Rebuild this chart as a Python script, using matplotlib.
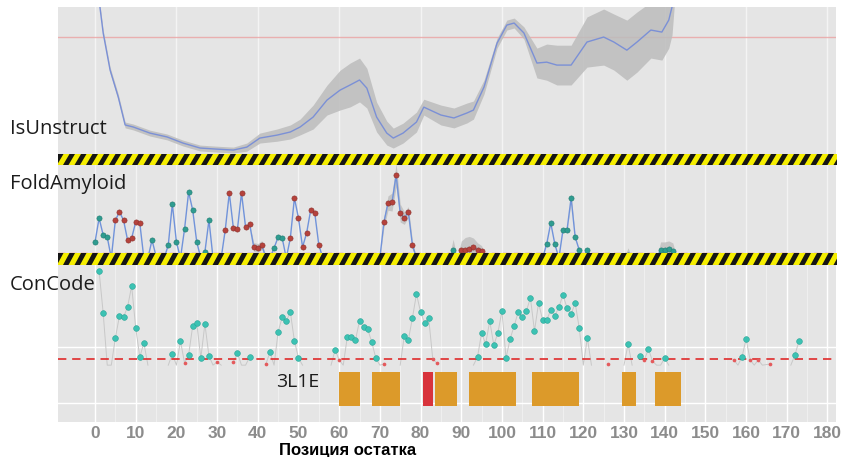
import numpy as np
import matplotlib
matplotlib.use('Agg')
import matplotlib.pyplot as plt
from matplotlib.collections import PolyCollection
from matplotlib.patches import Rectangle

# ---- data ----
# IsUnstruct: residue, smoothed score, half width of the grey band
iu_res = [0.5, 1.2, 2, 3.7, 5.7, 7.4, 9.4, 13.5, 17.7, 21.6, 25.8, 30, 34, 37.3, 40.5,
          44.7, 48, 50.4, 53.6, 57, 60.2, 62.7, 65, 66.8, 69.2, 71.7, 73.3, 75.7, 79,
          80.8, 85, 88.2, 91.4, 93, 95.6, 98.8, 101.2, 103, 105.4, 108.6, 111, 113.5,
          117, 120.9, 125, 127.5, 130.7, 133.2, 136.6, 139.3, 141, 141.8, 142.5]
iu_val = [0.841, 0.633, 0.518, 0.354, 0.235, 0.111, 0.102, 0.075, 0.058, 0.031, 0.009,
          0.004, 0.000, 0.013, 0.053, 0.066, 0.080, 0.102, 0.146, 0.221, 0.265, 0.288,
          0.310, 0.274, 0.146, 0.075, 0.053, 0.075, 0.124, 0.190, 0.155, 0.142, 0.164,
          0.177, 0.279, 0.473, 0.553, 0.562, 0.518, 0.385, 0.389, 0.376, 0.376, 0.478,
          0.500, 0.478, 0.442, 0.478, 0.531, 0.522, 0.575, 0.633, 0.796]
iu_band = [0.013, 0.013, 0.013, 0.013, 0.013, 0.013, 0.013, 0.013, 0.013, 0.013, 0.013,
           0.013, 0.013, 0.018, 0.022, 0.027, 0.031, 0.035, 0.053, 0.066, 0.088, 0.097,
           0.097, 0.088, 0.066, 0.053, 0.044, 0.044, 0.044, 0.035, 0.044, 0.044, 0.044,
           0.040, 0.031, 0.022, 0.022, 0.022, 0.027, 0.066, 0.080, 0.088, 0.088, 0.111,
           0.124, 0.124, 0.133, 0.133, 0.124, 0.124, 0.124, 0.124, 0.124]
iu_cut = 0.5

# FoldAmyloid: residue, score, band, kind (1 = teal, 2 = red, 0 = no dot)
fa_res = [0, 1, 2, 3, 4, 5, 6, 7, 8, 9, 10, 11, 12, 13, 14, 15, 16, 17, 18, 19, 20, 21,
          22, 23, 24, 25, 26, 27, 28, 29, 31, 32, 33, 34, 35, 36, 37, 38, 39, 40, 41, 42,
          43, 44, 45, 46, 47, 48, 49, 50, 51, 52, 53, 54, 55, 56, 70, 71, 72, 73, 74, 75,
          76, 77, 78, 79, 87, 88, 89, 90, 91, 92, 93, 94, 95, 96, 110, 111, 112, 113,
          114, 115, 116, 117, 118, 119, 120, 121, 122, 130, 131, 132, 138, 139, 140,
          141, 142, 143]
fa_val = [0.178, 0.444, 0.256, 0.233, 0, 0.422, 0.511, 0.422, 0.2, 0.222, 0.4, 0.389,
          0, 0, 0.2, 0.022, 0, 0, 0.144, 0.6, 0.178, 0, 0.322, 0.733, 0.533, 0.178, 0,
          0.067, 0.422, 0, 0, 0.311, 0.722, 0.333, 0.322, 0.722, 0.344, 0.378, 0.122,
          0.111, 0.144, 0, 0, 0.111, 0.233, 0.222, 0, 0.222, 0.667, 0.444, 0.122, 0.278,
          0.533, 0.5, 0.144, 0, 0, 0.4, 0.611, 0.622, 0.922, 0.5, 0.444, 0.511, 0.144,
          0, 0, 0.089, 0, 0.089, 0.089, 0.1, 0.122, 0.089, 0.078, 0, 0, 0.156, 0.389,
          0.156, 0, 0.311, 0.311, 0.667, 0.233, 0.089, 0, 0.089, 0, 0, 0.033, 0, 0,
          0.089, 0.089, 0.1, 0.078, 0]
fa_err = [0, 0, 0, 0, 0, 0, 0, 0, 0, 0, 0, 0, 0, 0, 0, 0, 0, 0, 0, 0, 0, 0,
          0, 0, 0, 0, 0, 0, 0, 0, 0, 0, 0, 0, 0, 0, 0, 0, 0.05, 0.05, 0.05, 0,
          0, 0, 0, 0, 0, 0, 0, 0, 0, 0, 0, 0, 0, 0, 0, 0.06, 0.08, 0.1, 0.13, 0.1,
          0.07, 0.06, 0.05, 0, 0, 0.12, 0, 0.1, 0.14, 0.14, 0.1, 0.08, 0.06, 0, 0, 0, 0,
          0, 0, 0, 0, 0.05, 0, 0, 0, 0, 0, 0, 0.08, 0, 0,
          0.09, 0.09, 0.09, 0.09, 0]
fa_kind = [1, 1, 1, 1, 0, 2, 2, 2, 2, 2, 2, 2, 0, 0, 1, 1, 0, 0, 1, 1, 1, 0,
           1, 1, 1, 1, 0, 1, 1, 0, 0, 2, 2, 2, 2, 2, 2, 2, 2, 2, 2, 0,
           0, 1, 1, 1, 0, 2, 2, 2, 2, 2, 2, 2, 2, 0, 0, 2, 2, 2, 2, 2,
           2, 2, 2, 0, 0, 1, 0, 2, 2, 2, 2, 2, 2, 0, 0, 1, 1, 1,
           0, 1, 1, 1, 1, 1, 0, 1, 0, 0, 1, 0, 0, 1, 1,
           1, 1, 0]
fa_cut = 0.06

# ConCode: residue, score (nan = gap in the line)
cc_res = [1, 2, 3, 4, 5, 6, 7, 8, 9, 10, 11, 12, 13, 14,
          18, 19, 20, 21, 22, 23, 24, 25, 26, 27, 28, 29, 30, 31, 32,
          34, 35, 36, 37, 38, 39,
          42, 43, 44, 45, 46, 47, 48, 49, 50, 51, 52,
          58, 59, 60, 61, 62, 63, 64, 65, 66, 67, 68, 69, 70, 71, 72,
          75, 76, 77, 78, 79, 80, 81, 82, 83, 84, 85,
          93, 94, 95, 96, 97, 98, 99, 100, 101, 102, 103, 104, 105, 106, 107, 108,
          109, 110, 111, 112, 113, 114, 115, 116, 117, 118, 119, 120, 121, 122, 123,
          126, 127,
          130, 131, 132, 133,
          134, 135, 136, 137, 138, 139, 140, 141, 142,
          157, 158, 159, 160, 161, 162, 163, 164, 166, 167,
          171, 172, 173]
nan = float('nan')
cc_val = [1.0, 0.523, -0.07, -0.07, 0.239, 0.489, 0.477, 0.591, 0.83, 0.352, 0.023, 0.182, -0.07, nan,
          -0.07, 0.057, -0.07, 0.205, -0.045, 0.045, 0.375, 0.409, 0.011, 0.398, 0.034, -0.07, -0.034, -0.07, nan,
          -0.034, 0.068, -0.07, -0.07, 0.023, nan,
          -0.057, 0.08, -0.07, 0.307, 0.477, 0.432, 0.534, 0.205, 0.011, -0.07, nan,
          -0.07, 0.102, -0.011, -0.07, 0.25, 0.25, 0.216, 0.432, 0.364, 0.341, 0.193, 0.011, -0.07, -0.057, nan,
          -0.07, 0.261, 0.216, 0.466, 0.739, 0.534, 0.409, 0.466, 0.0, -0.045, nan,
          -0.07, 0.023, 0.295, 0.17, 0.432, 0.159, 0.295, 0.545, 0.011, 0.227, 0.375, 0.534, 0.477, 0.545, 0.693, 0.318,
          0.636, 0.443, 0.443, 0.557, 0.489, 0.591, 0.727, 0.58, 0.511, 0.636, 0.352, -0.07, 0.239, -0.07, nan,
          -0.057, nan,
          -0.07, 0.17, -0.07, nan,
          0.034, -0.011, 0.114, -0.023, -0.07, -0.07, 0.011, -0.07, nan,
          -0.011, -0.07, 0.023, 0.227, -0.011, -0.07, -0.011, -0.07, -0.057, nan,
          -0.07, 0.045, 0.205]
cc_cut = 0.0

# 3L1E structure segments
seg_start = [60, 68, 80.5, 83.5, 92, 107.5, 129.5, 137.5]
seg_end = [65, 75, 83, 89, 103.5, 119, 133, 144]
seg_kind = ['o', 'o', 'r', 'o', 'o', 'o', 'o', 'o']

ticks = list(range(0, 181, 10))

# ---- layout (pixels of the 847x457 picture) ----
W, H = 847, 457
BG = '#e5e5e5'
XLIM = (-9.1, 182.1)


def px_box(x0, y0, x1, y1):
    return [x0 / W, 1 - y1 / H, (x1 - x0) / W, (y1 - y0) / H]


fig = plt.figure(figsize=(W / 100, H / 100), dpi=100)


def panel(box, ylim, major, minor=None, major_alpha=1.0, minor_alpha=0.5):
    ax = fig.add_axes(px_box(*box))
    ax.set_facecolor(BG)
    ax.set_xlim(*XLIM)
    ax.set_ylim(*ylim)
    for s in ax.spines.values():
        s.set_visible(False)
    ax.set_xticks(major)
    if minor is not None:
        ax.set_xticks(minor, minor=True)
    ax.set_yticks([])
    ax.tick_params(which='both', length=0, labelbottom=False)
    ax.grid(True, which='major', axis='x', color='white', lw=1.0, alpha=major_alpha)
    if minor is not None:
        ax.grid(True, which='minor', axis='x', color='white', lw=0.6, alpha=minor_alpha)
    ax.set_axisbelow(True)
    return ax


def hazard(box):
    x0, y0, x1, y1 = box
    ax = fig.add_axes(px_box(*box))
    ax.set_zorder(5)
    w, h = x1 - x0, y1 - y0
    ax.set_xlim(0, w)
    ax.set_ylim(0, h)
    ax.set_axis_off()
    ax.add_patch(Rectangle((0, 0), w, h, color='#f5ee00', lw=0))
    period, thick, slant = 11.5, 5.5, 6.5
    polys = [[(s, 0), (s + thick, 0), (s + thick + slant, h), (s + slant, h)]
             for s in np.arange(-slant - period, w + period, period)]
    ax.add_collection(PolyCollection(polys, facecolors='#151515', edgecolors='none'))


# IsUnstruct
ax1 = panel((58, 7, 836, 160), (-0.044, 0.633), list(range(0, 181, 20)), major_alpha=0.6)
iu_res_a = np.array(iu_res)
iu_val_a = np.array(iu_val)
iu_band_a = np.array(iu_band)
ax1.axhline(iu_cut, color='#eba2a2', lw=1.0, alpha=0.8, zorder=1)
ax1.fill_between(iu_res_a, iu_val_a - iu_band_a, iu_val_a + iu_band_a,
                 color='#bcbcbc', alpha=0.85, lw=0, zorder=2)
ax1.plot(iu_res_a, iu_val_a, color='#7b90d6', lw=1.0, zorder=3)

# FoldAmyloid
ax2 = panel((58, 163, 836, 262), (-0.044, 1.056), ticks, major_alpha=0.55)
fa_res_a = np.array(fa_res, dtype=float)
fa_val_a = np.array(fa_val)
fa_err_a = np.array(fa_err)
fa_kind_a = np.array(fa_kind)
ax2.axhline(fa_cut, color='#e77a7a', lw=1.0, ls=(0, (5, 3)), zorder=1)
ax2.fill_between(fa_res_a, fa_val_a - fa_err_a, fa_val_a + fa_err_a,
                 color='#bdbdbd', alpha=0.8, lw=0, zorder=2)
ax2.plot(fa_res_a, fa_val_a, color='#7193da', lw=1.0, zorder=3)
t = fa_kind_a == 1
r = fa_kind_a == 2
ax2.scatter(fa_res_a[t], fa_val_a[t], s=14, color='#2f9c90', edgecolors='#1f7a70',
            linewidths=0.4, zorder=4)
ax2.scatter(fa_res_a[r], fa_val_a[r], s=14, color='#b5423c', edgecolors='#8a2e2a',
            linewidths=0.4, zorder=4)

# ConCode
ax3 = panel((58, 262, 836, 367), (-0.091, 1.102), ticks, list(range(5, 181, 10)))
cc_res_a = np.array(cc_res, dtype=float)
cc_val_a = np.array(cc_val)
ax3.axhline(0.136, color='white', lw=1.0, zorder=0.5)
ax3.plot(cc_res_a, cc_val_a, color='#c8c8c8', lw=0.7, zorder=2)
ax3.axhline(cc_cut, color='#e02a2a', lw=1.2, ls=(0, (5, 3.5)), zorder=3)
up = cc_val_a > 0.005
low = (cc_val_a <= 0.005) & (cc_val_a >= -0.06)
ax3.scatter(cc_res_a[up], cc_val_a[up], s=17, color='#3cc2b3', edgecolors='#2aa597',
            linewidths=0.4, zorder=4)
ax3.scatter(cc_res_a[low], cc_val_a[low], s=7, color='#e45a5c', lw=0, zorder=4)

# 3L1E
ax4 = panel((58, 367, 836, 422), (0, 1), ticks, list(range(5, 181, 10)))
ax4.axhline(0.345, color='white', lw=1.0, zorder=0.5)
seg_color = {'o': '#dc9a2a', 'r': '#d8343c'}
for a, b, k in zip(seg_start, seg_end, seg_kind):
    ax4.barh(0.6, b - a, left=a, height=0.62, color=seg_color[k], lw=0, zorder=2)
ax4.set_xticklabels([str(v) for v in ticks])
ax4.tick_params(which='major', labelbottom=True, labelsize=12.5, labelcolor='#8c8c8c', pad=3)
for lab in ax4.get_xticklabels():
    lab.set_fontfamily('Liberation Sans')
    lab.set_fontweight('bold')

hazard((58, 154, 837, 165))
hazard((58, 253, 837, 265))

# labels
lab_font = dict(family='Open Sans', color='#1c1c1c', ha='left', va='center', zorder=10)
fig.text(10 / W, 1 - 129 / H, 'IsUnstruct', fontsize=14.5, **lab_font)
fig.text(10 / W, 1 - 184 / H, 'FoldAmyloid', fontsize=14.5, **lab_font)
fig.text(10 / W, 1 - 285 / H, 'ConCode', fontsize=14.5, **lab_font)
fig.text(276 / W, 1 - 382 / H, '3L1E', fontsize=14, **lab_font)
fig.text(348 / W, 1 - 455 / H, 'Позиция остатка', ha='center', va='baseline',
         fontsize=12, fontweight='bold', family='Liberation Sans', color='black')

fig.savefig('out.png', dpi=100)
